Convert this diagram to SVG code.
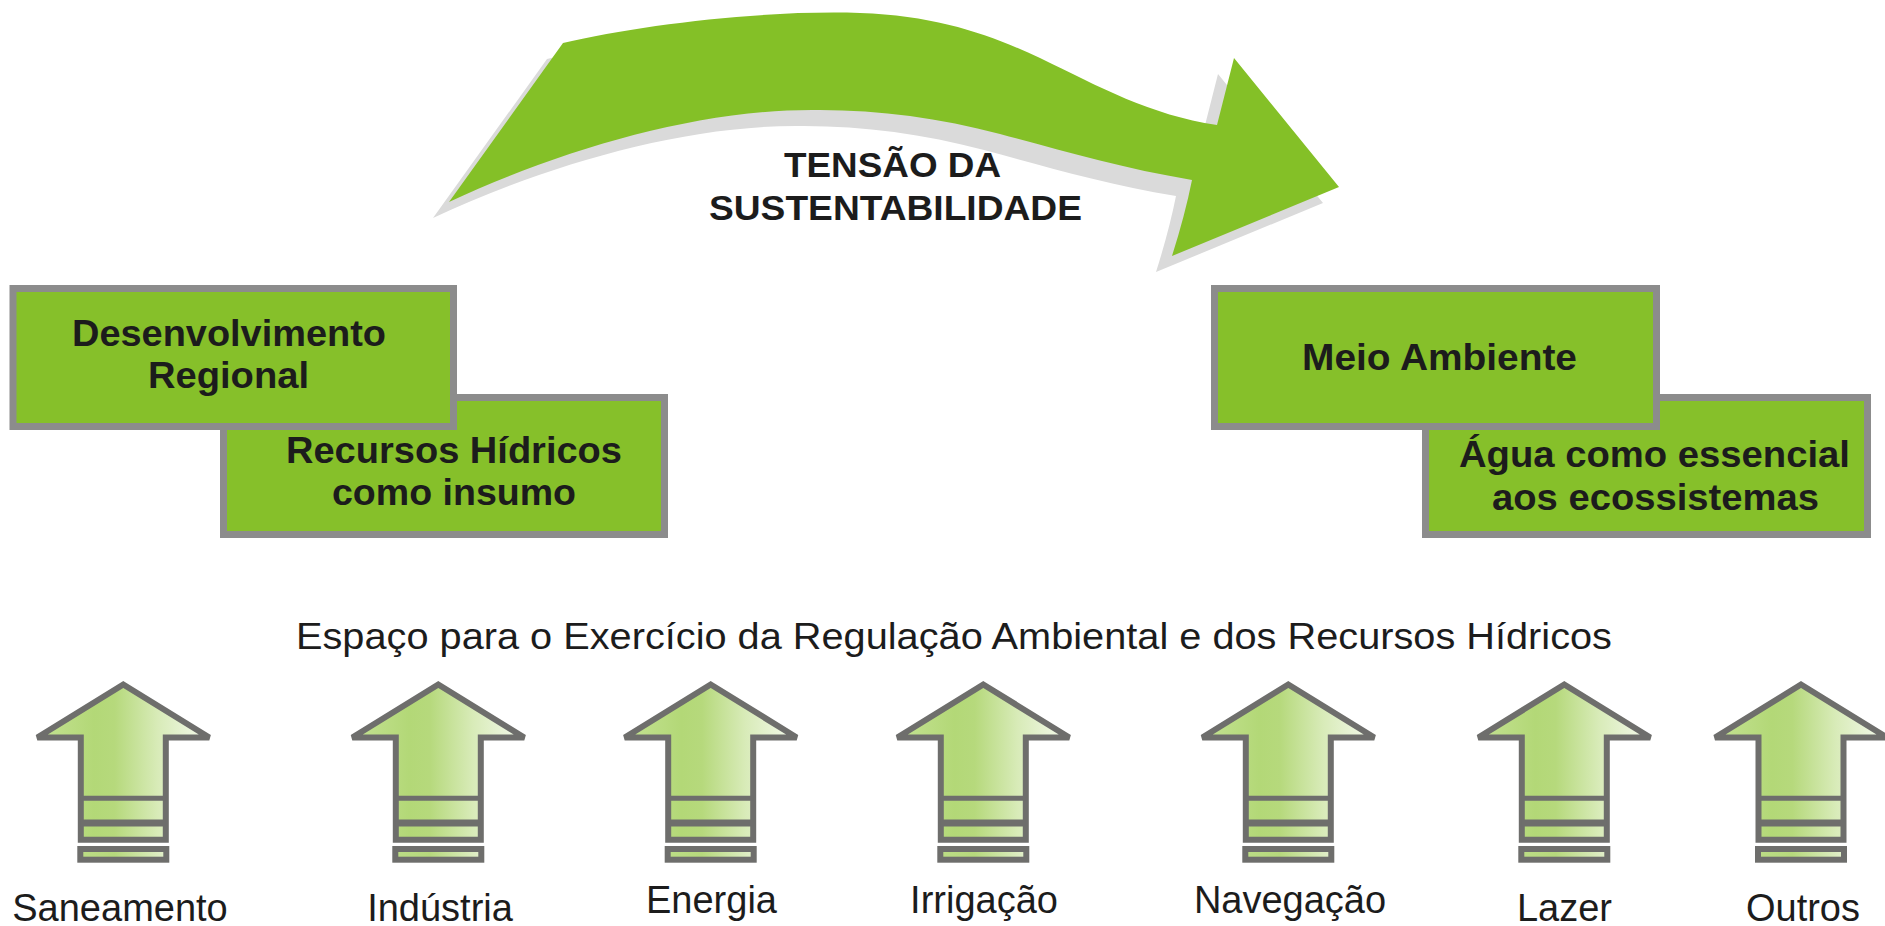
<svg xmlns="http://www.w3.org/2000/svg" xmlns:xlink="http://www.w3.org/1999/xlink" width="1885" height="926" viewBox="0 0 1885 926">
  <style>
    .bg { fill: #ffffff; }
    .box { fill: #86c02a; stroke: #8c8c8c; stroke-width: 7; }
    .boxtxt { font-family: "Liberation Sans", Arial, sans-serif; font-weight: bold; font-size: 36px; fill: #1c1c1c; }
    .bigtxt { font-family: "Liberation Sans", Arial, sans-serif; font-weight: bold; font-size: 35px; fill: #1c1c1c; }
    .band { font-family: "Liberation Sans", Arial, sans-serif; font-size: 37px; fill: #1c1c1c; }
    .lbl { font-family: "Liberation Sans", Arial, sans-serif; font-size: 38px; fill: #1c1c1c; text-anchor: middle; }
    .up { fill: url(#upFill); stroke: #6e6e6c; stroke-width: 6; stroke-linejoin: miter; stroke-miterlimit: 2; }
    .bar { fill: url(#barFill); stroke: #6e6e6c; stroke-width: 6; }
    .stripe { stroke: #6e6e6c; fill: none; }
  </style>
  <defs>
    <linearGradient id="upFill" x1="0" y1="0" x2="1" y2="0">
      <stop offset="0" stop-color="#c4e293"/>
      <stop offset="0.33" stop-color="#b3d877"/>
      <stop offset="0.45" stop-color="#b6d97c"/>
      <stop offset="0.7" stop-color="#d8ebb8"/>
      <stop offset="1" stop-color="#f5faee"/>
    </linearGradient>
    <linearGradient id="barFill" x1="0" y1="0" x2="1" y2="0">
      <stop offset="0" stop-color="#bcdd86"/>
      <stop offset="0.4" stop-color="#b6d97c"/>
      <stop offset="1" stop-color="#e3f0cd"/>
    </linearGradient>
    <!-- upward arrow icon, drawn around x = 0 -->
    <g id="upArrow">
      <polygon class="up" points="0,684.5 86,737.5 42.5,737.5 42.5,839.7 -42.5,839.7 -42.5,737.5 -86,737.5"/>
      <line class="stripe" x1="-42.5" y1="798.3" x2="42.5" y2="798.3" stroke-width="5"/>
      <line class="stripe" x1="-42.5" y1="823" x2="42.5" y2="823" stroke-width="7"/>
      <rect class="bar" x="-43" y="849" width="86" height="10.7"/>
    </g>
    <path id="curvedArrow" d="M449,202 L563,43 C640,25 760,10 860,13 C940,16 990,35 1040,58 C1100,87 1150,115 1217,125 L1234,58 L1339,187 L1172,256 Q1185,215 1192,180 C1120,168 1060,150 1000,134 C940,118 880,110 820,110 C700,108 560,150 449,202 Z"/>
  </defs>

  <rect class="bg" x="0" y="0" width="1885" height="926"/>

  <!-- curved arrow with its drop shadow -->
  <g id="tension-arrow">
    <use xlink:href="#curvedArrow" href="#curvedArrow" transform="translate(-16,16)" fill="#dadada"/>
    <use xlink:href="#curvedArrow" href="#curvedArrow" fill="#84c027"/>
  </g>

  <g id="tension-label">
    <text class="bigtxt" x="784" y="177" textLength="217" lengthAdjust="spacingAndGlyphs">TENSÃO DA</text>
    <text class="bigtxt" x="709" y="220" textLength="373" lengthAdjust="spacingAndGlyphs">SUSTENTABILIDADE</text>
  </g>

  <!-- left pair of boxes -->
  <g id="recursos-insumo">
    <rect class="box" x="223.5" y="397.5" width="441" height="137"/>
    <text class="boxtxt" x="286" y="463" textLength="336" lengthAdjust="spacingAndGlyphs">Recursos Hídricos</text>
    <text class="boxtxt" x="332" y="505" textLength="244" lengthAdjust="spacingAndGlyphs">como insumo</text>
  </g>
  <g id="desenvolvimento-regional">
    <rect class="box" x="13" y="288.5" width="440.5" height="138"/>
    <text class="boxtxt" x="72" y="346" textLength="314" lengthAdjust="spacingAndGlyphs">Desenvolvimento</text>
    <text class="boxtxt" x="148" y="388" textLength="161" lengthAdjust="spacingAndGlyphs">Regional</text>
  </g>

  <!-- right pair of boxes -->
  <g id="agua-essencial">
    <rect class="box" x="1425.5" y="397.5" width="442" height="137"/>
    <text class="boxtxt" x="1459" y="467" textLength="391" lengthAdjust="spacingAndGlyphs">Água como essencial</text>
    <text class="boxtxt" x="1492" y="510" textLength="327" lengthAdjust="spacingAndGlyphs">aos ecossistemas</text>
  </g>
  <g id="meio-ambiente">
    <rect class="box" x="1214.5" y="288.5" width="442" height="138"/>
    <text class="boxtxt" x="1302" y="370" textLength="275" lengthAdjust="spacingAndGlyphs">Meio Ambiente</text>
  </g>

  <g id="regulation-band">
    <text class="band" x="296" y="649" textLength="1316" lengthAdjust="spacingAndGlyphs">Espaço para o Exercício da Regulação Ambiental e dos Recursos Hídricos</text>
  </g>

  <!-- water uses -->
  <g id="use-saneamento">
    <use xlink:href="#upArrow" href="#upArrow" transform="translate(123.3,0)"/>
    <text class="lbl" x="120" y="921">Saneamento</text>
  </g>
  <g id="use-industria">
    <use xlink:href="#upArrow" href="#upArrow" transform="translate(438.3,0)"/>
    <text class="lbl" x="440" y="921">Indústria</text>
  </g>
  <g id="use-energia">
    <use xlink:href="#upArrow" href="#upArrow" transform="translate(710.7,0)"/>
    <text class="lbl" x="711.5" y="913">Energia</text>
  </g>
  <g id="use-irrigacao">
    <use xlink:href="#upArrow" href="#upArrow" transform="translate(983.3,0)"/>
    <text class="lbl" x="984" y="913">Irrigação</text>
  </g>
  <g id="use-navegacao">
    <use xlink:href="#upArrow" href="#upArrow" transform="translate(1288.3,0)"/>
    <text class="lbl" x="1290" y="913">Navegação</text>
  </g>
  <g id="use-lazer">
    <use xlink:href="#upArrow" href="#upArrow" transform="translate(1564.3,0)"/>
    <text class="lbl" x="1564.5" y="921">Lazer</text>
  </g>
  <g id="use-outros">
    <use xlink:href="#upArrow" href="#upArrow" transform="translate(1801,0)"/>
    <text class="lbl" x="1803" y="921">Outros</text>
  </g>
</svg>
